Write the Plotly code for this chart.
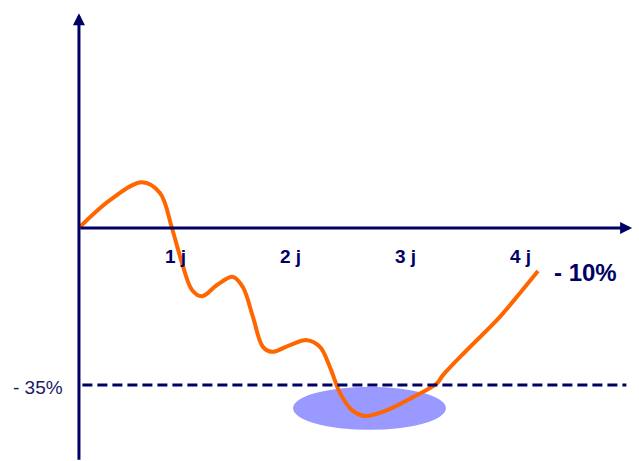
import plotly.graph_objects as go

# curve: time in days, change in %
days = [0, 0.27, 0.549, 0.706, 0.81, 0.898, 0.985, 1.072, 1.203, 1.342, 1.429,
        1.516, 1.603, 1.682, 1.839, 1.987, 2.1, 2.187, 2.275, 2.379, 2.492,
        2.684, 2.911, 3.12, 3.172, 3.381, 3.643, 3.843, 4.0]
change = [0, 6.2, 10.2, 7.8, 0, -7.8, -13.8, -15.2, -12.7, -10.9, -13.2,
          -19.8, -26.5, -27.6, -26.1, -25.0, -26.5, -31.0, -36.8, -40.6, -41.9,
          -40.6, -37.7, -34.6, -32.8, -27.2, -20.5, -14.5, -9.6]

tick_days = [1, 2, 3, 4]
tick_labels = ['1 j', '2 j', '3 j', '4 j']
floor_level = -35
end_label = '- 10%'
floor_label = '- 35%'

NAVY = '#000066'
ORANGE = '#FF6600'

fig = go.Figure()

# shaded zone around the trough
fig.add_shape(type='circle', xref='x', yref='y', x0=1.865, x1=3.198, y0=-35.4, y1=-45.0,
              fillcolor='#9999FF', line_width=0, layer='below')

# -35% dashed level
fig.add_shape(type='line', xref='x', yref='y', x0=0.03, x1=4.77, y0=floor_level, y1=floor_level,
              line=dict(color=NAVY, width=3, dash='10px,5px'))

fig.add_trace(go.Scatter(x=days, y=change, mode='lines',
                         line=dict(color=ORANGE, width=4, shape='spline', smoothing=1.0),
                         hoverinfo='skip'))

# axes with arrows
fig.add_annotation(x=4.82, y=0, ax=0, ay=0, xref='x', yref='y', axref='x', ayref='y',
                   text='', showarrow=True, arrowhead=2, arrowsize=0.8, arrowwidth=3, arrowcolor=NAVY)
fig.add_annotation(x=0, y=47.9, ax=0, ay=-52, xref='x', yref='y', axref='x', ayref='y',
                   text='', showarrow=True, arrowhead=2, arrowsize=0.8, arrowwidth=3, arrowcolor=NAVY)

for d, lab in zip(tick_days, tick_labels):
    fig.add_annotation(x=d, y=0, xref='x', yref='y', text='<b>%s</b>' % lab, showarrow=False,
                       xshift=-18, yshift=-28, font=dict(family='Liberation Sans', size=19, color=NAVY))

fig.add_annotation(x=days[-1], y=change[-1], xref='x', yref='y', text='<b>%s</b>' % end_label,
                   showarrow=False, xanchor='left', xshift=14, yshift=-1,
                   font=dict(family='Liberation Sans', size=24, color=NAVY))
fig.add_annotation(x=0, y=floor_level, xref='x', yref='y', text=floor_label, showarrow=False,
                   xanchor='right', xshift=-14, yshift=-2,
                   font=dict(family='Liberation Sans', size=19, color='#1a1a66'))

fig.update_layout(
    width=639, height=461,
    margin=dict(l=0, r=0, t=0, b=0, autoexpand=False),
    paper_bgcolor='white', plot_bgcolor='white',
    showlegend=False,
    xaxis=dict(range=[-0.688, 4.88], visible=False, fixedrange=True),
    yaxis=dict(range=[-51.94, 50.83], visible=False, fixedrange=True),
)

# drop the browser's default body margin so the figure fills the window
fig.write_html('out.html', config={'displayModeBar': False},
               post_script="document.body.style.margin='0';")
